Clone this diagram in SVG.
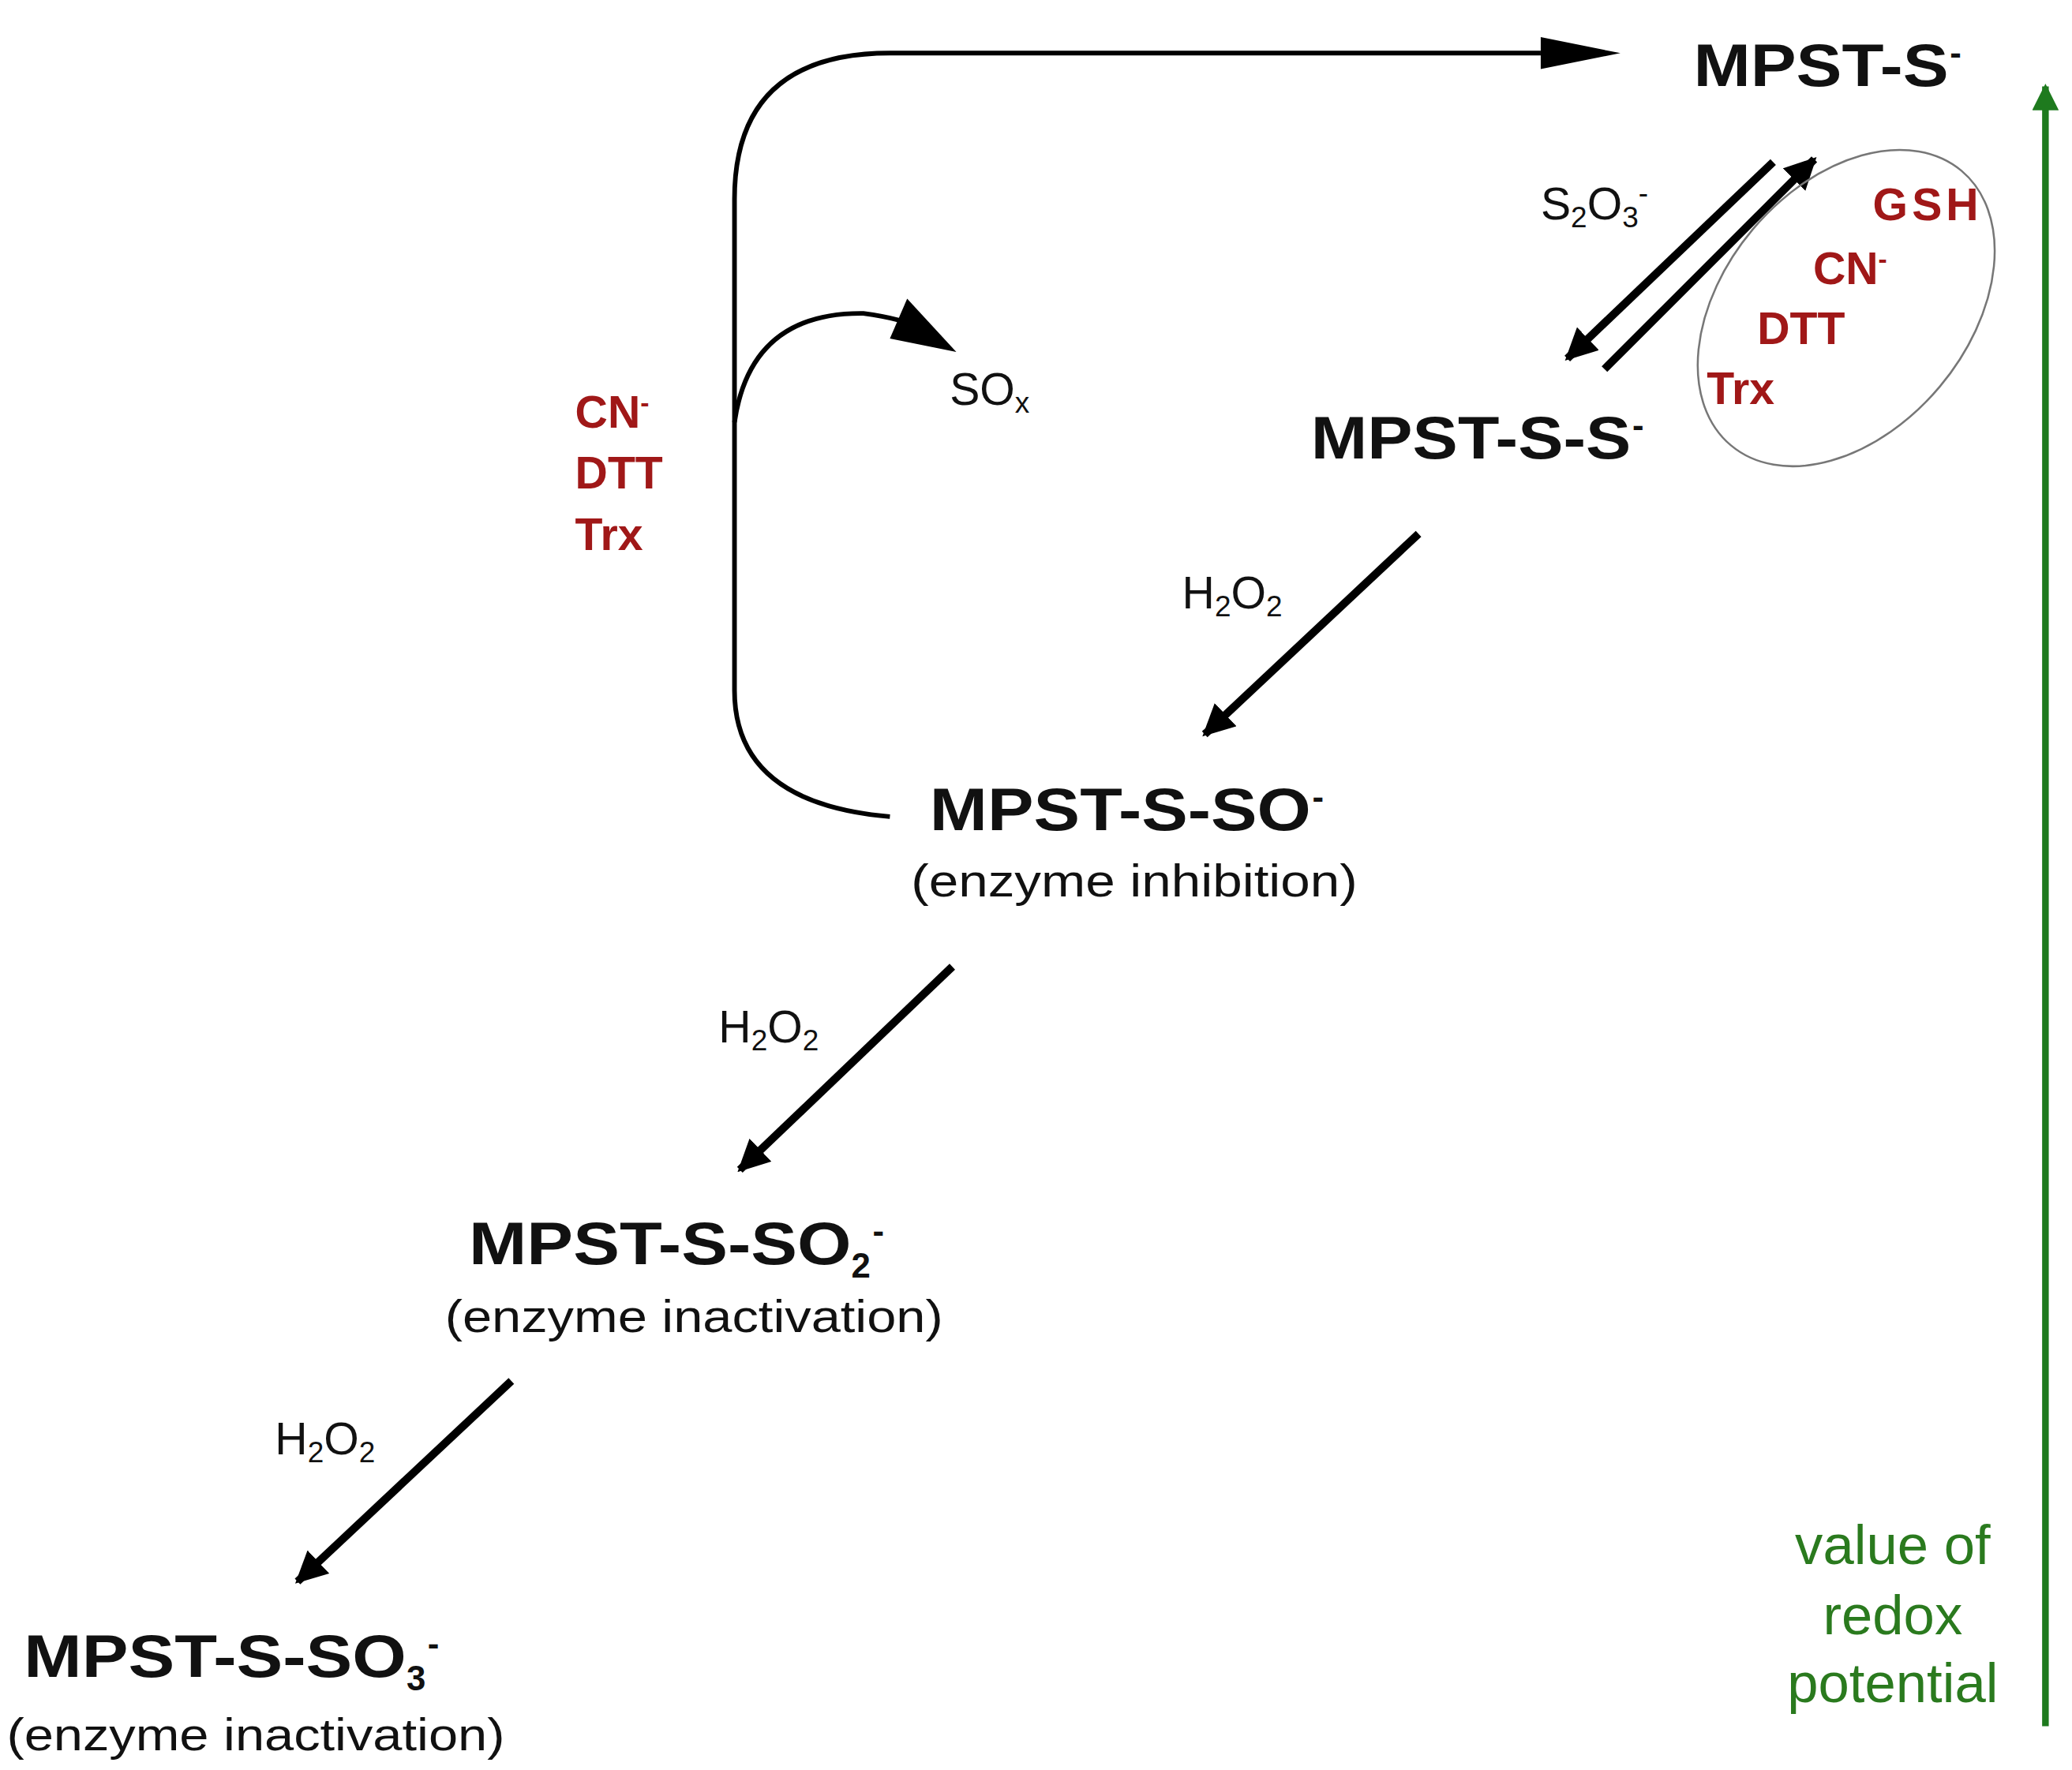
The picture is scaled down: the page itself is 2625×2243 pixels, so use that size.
<svg xmlns="http://www.w3.org/2000/svg" width="2625" height="2243" viewBox="0 0 2625 2243">
<style>
.m{font-family:"Liberation Sans",Arial,sans-serif;font-weight:bold;font-size:45px;fill:#111}
.s{font-family:"Liberation Sans",Arial,sans-serif;font-weight:bold;font-size:26px;fill:#111}
.n{font-family:"Liberation Sans",Arial,sans-serif;font-size:34px;fill:#111}
.r{font-family:"Liberation Sans",Arial,sans-serif;font-weight:bold;font-size:34px;fill:#a01818}
.g{font-family:"Liberation Sans",Arial,sans-serif;font-size:42px;fill:#2a7a1e}
.l{fill:none;stroke:#000;stroke-width:6}
</style>
<defs>
<marker id="a" viewBox="0 0 10 10" refX="9" refY="5" markerWidth="4" markerHeight="4" orient="auto" markerUnits="strokeWidth"><path d="M0,0L10,5L0,10z" fill="#000"/></marker>
<marker id="b" viewBox="0 0 10 10" refX="9" refY="5" markerWidth="4" markerHeight="4" orient="auto" markerUnits="strokeWidth"><path d="M0,0L10,5L0,10z" fill="#1e7a1e"/></marker>
</defs>
<rect width="2625" height="2243" fill="#fff"/>
<g transform="scale(1.6827)">
<g id="connectors">
<path class="l" style="stroke-width:3.5" d="M553,520 L553,150 Q553,40 670,40 L1160,40"/>
<path d="M1160,28 L1220,40 L1160,52z"/>
<path class="l" style="stroke-width:3.5" d="M553,520 Q553,605 670,615"/>
<path class="l" style="stroke-width:3.5" d="M553,318 Q565,235 650,236 Q680,240 695,248"/>
<path d="M683,225 L720,265 L670,255z"/>
<line class="l" x1="1335" y1="122" x2="1180" y2="270" marker-end="url(#a)"/>
<line class="l" x1="1208" y1="278" x2="1366" y2="120" marker-end="url(#a)"/>
<line class="l" x1="1068" y1="402" x2="907" y2="553" marker-end="url(#a)"/>
<line class="l" x1="717" y1="728" x2="557" y2="881" marker-end="url(#a)"/>
<line class="l" x1="385" y1="1040" x2="224" y2="1191" marker-end="url(#a)"/>
<line x1="1540" y1="1300" x2="1540" y2="65" stroke="#1e7a1e" stroke-width="5" marker-end="url(#b)"/>
<ellipse cx="1390" cy="232" rx="135" ry="92" transform="rotate(-50 1390 232)" fill="none" stroke="#777" stroke-width="1.5"/>
</g>
<g id="n1"><text class="m" x="1275" y="65" textLength="192" lengthAdjust="spacingAndGlyphs">MPST-S</text><text class="s" x="1468" y="49">-</text></g>
<g id="n2"><text class="m" x="987" y="345" textLength="241" lengthAdjust="spacingAndGlyphs">MPST-S-S</text><text class="s" x="1229" y="329">-</text></g>
<g id="n3"><text class="m" x="700" y="625" textLength="287" lengthAdjust="spacingAndGlyphs">MPST-S-SO</text><text class="s" x="988" y="609">-</text><text class="n" x="686" y="675" textLength="336" lengthAdjust="spacingAndGlyphs">(enzyme inhibition)</text></g>
<g id="n4"><text class="m" x="353" y="952" textLength="288" lengthAdjust="spacingAndGlyphs">MPST-S-SO</text><text class="s" x="641" y="962">2</text><text class="s" x="657" y="936">-</text><text class="n" x="335" y="1003" textLength="375" lengthAdjust="spacingAndGlyphs">(enzyme inactivation)</text></g>
<g id="n5"><text class="m" x="18" y="1263" textLength="288" lengthAdjust="spacingAndGlyphs">MPST-S-SO</text><text class="s" x="306" y="1273">3</text><text class="s" x="322" y="1247">-</text><text class="n" x="5" y="1318" textLength="375" lengthAdjust="spacingAndGlyphs">(enzyme inactivation)</text></g>
<g id="labels">
<text class="n" x="715" y="305">SO<tspan font-size="22" dy="6">x</tspan></text>
<text class="n" x="1160" y="165">S<tspan font-size="22" dy="6">2</tspan><tspan dy="-6">O</tspan><tspan font-size="22" dy="6">3</tspan><tspan font-size="22" dy="-18">-</tspan></text>
<text class="n" x="890" y="458">H<tspan font-size="22" dy="6">2</tspan><tspan dy="-6">O</tspan><tspan font-size="22" dy="6">2</tspan></text>
<text class="n" x="541" y="785">H<tspan font-size="22" dy="6">2</tspan><tspan dy="-6">O</tspan><tspan font-size="22" dy="6">2</tspan></text>
<text class="n" x="207" y="1095">H<tspan font-size="22" dy="6">2</tspan><tspan dy="-6">O</tspan><tspan font-size="22" dy="6">2</tspan></text>
<text class="r" x="433" y="322">CN<tspan font-size="20" dy="-12">-</tspan></text>
<text class="r" x="433" y="368">DTT</text>
<text class="r" x="433" y="414">Trx</text>
<text class="r" x="1410" y="166" letter-spacing="3">GSH</text>
<text class="r" x="1365" y="214">CN<tspan font-size="20" dy="-12">-</tspan></text>
<text class="r" x="1323" y="259">DTT</text>
<text class="r" x="1285" y="304">Trx</text>
<text class="g" x="1425" y="1178" text-anchor="middle">value of</text>
<text class="g" x="1425" y="1231" text-anchor="middle">redox</text>
<text class="g" x="1425" y="1282" text-anchor="middle">potential</text>
</g>
</g>
</svg>
